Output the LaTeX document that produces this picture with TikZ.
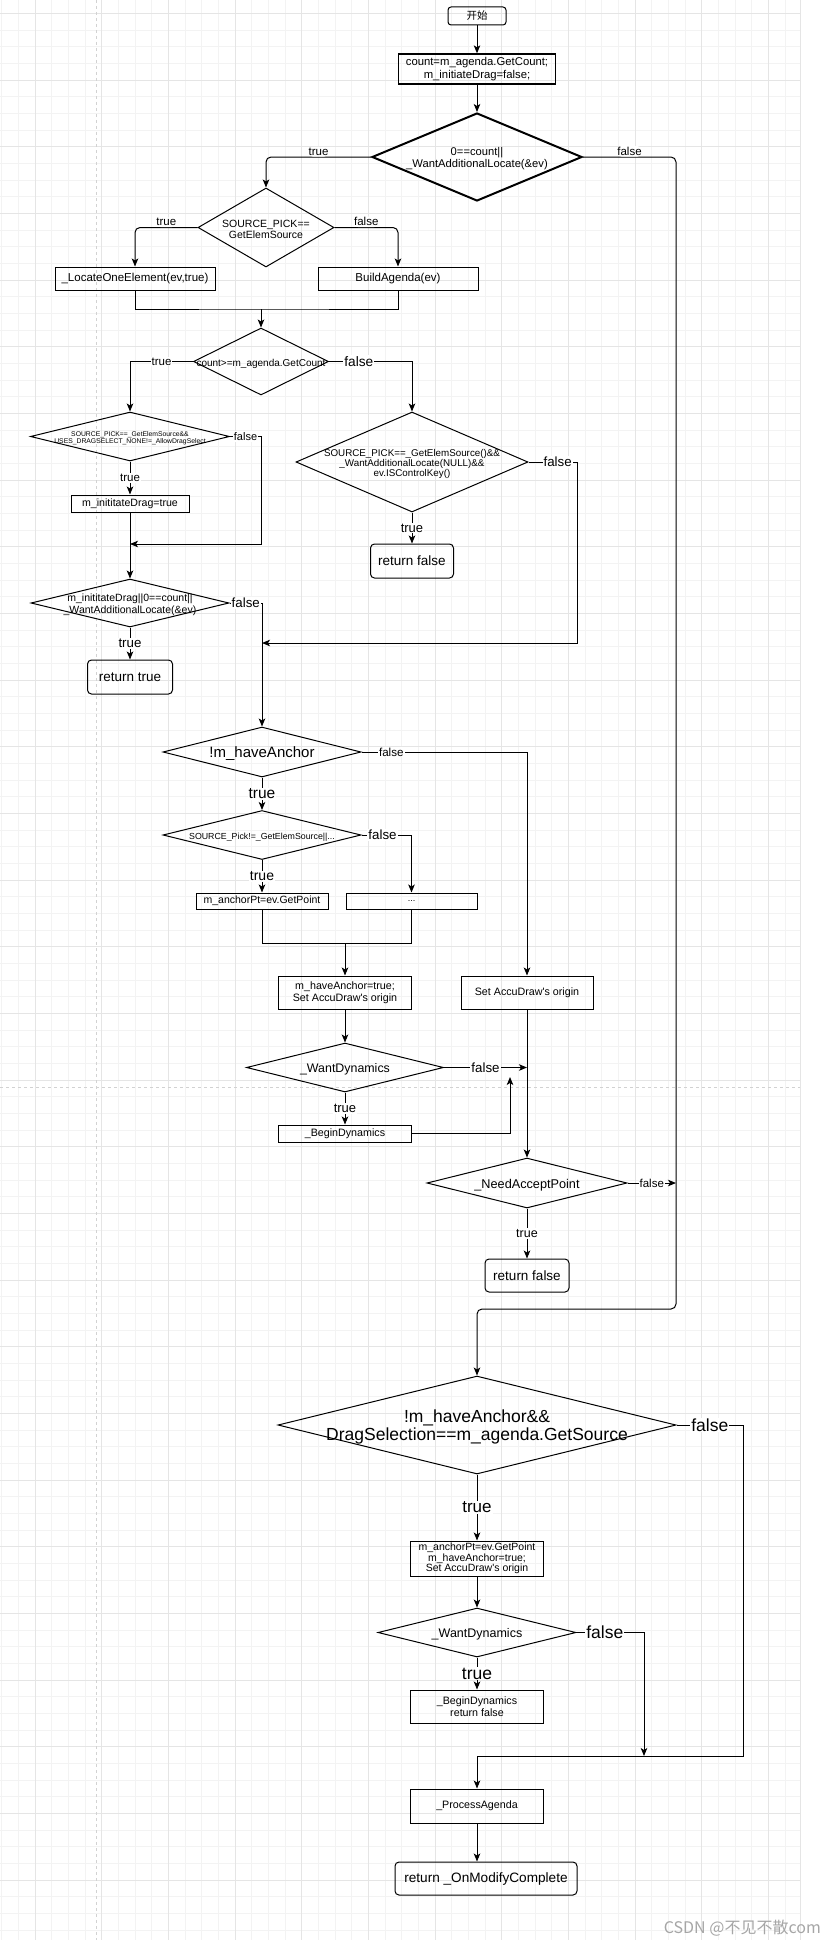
\documentclass[tikz,border=0pt]{standalone}
\usepackage{fontspec}
\setmainfont{Liberation Sans}
\newfontfamily\cjk{Noto Sans CJK SC}
\usetikzlibrary{shapes.geometric,arrows.meta}
\newcommand\fsz[2]{\fontsize{#1pt}{#2pt}\selectfont}
\definecolor{griglia}{HTML}{F3F3F3}
\definecolor{grigliaforte}{HTML}{E5E5E5}
\definecolor{pagina}{HTML}{D2D2D2}

\begin{document}
\begin{tikzpicture}[
    x=1pt, y=-1pt,
    gminor/.style={griglia,line width=0.7pt},
    gmajor/.style={grigliaforte,line width=0.8pt},
    gpage/.style={pagina,line width=0.8pt,dashed},
    sz/.style 2 args={minimum width=#1pt,minimum height=#2pt},
    box/.style={draw,line width=1pt,inner sep=0pt,align=center,font=\fsz{10.7}{11.5}},
    ret/.style={box,rounded corners=4pt,font=\fsz{13.5}{15}},
    dia/.style={diamond,draw,line width=1pt,inner sep=0pt},
    dtxt/.style={align=center,inner sep=0pt,yshift=-2pt},
    wire/.style={line width=1pt},
    arr/.style={wire,-{Stealth[length=8pt,width=6.5pt,inset=2pt]}},
    lbl/.style={fill=white,inner sep=1pt,font=\fsz{11.5}{12}}]

  \useasboundingbox (0,0) rectangle (836,1948);

  % ---- sfondo a griglia -----------------------------------------------------
  \fill[white] (0,0) rectangle (836,1948);
  \foreach \k in {0,...,47}  \draw[gminor] ({1.67+16.667*\k},0) -- ++(0,1940);
  \foreach \k in {0,...,115} \draw[gminor] (0,{13.33+16.667*\k}) -- ++(800,0);
  \foreach \k in {0,...,11}  \draw[gmajor] ({35+66.667*\k},0) -- ++(0,1940);
  \foreach \k in {0,...,28}  \draw[gmajor] (0,{13.33+66.667*\k}) -- ++(800,0);
  \draw[gmajor] (800,0) -- (800,1940);
  \draw[gpage] (96,0) -- (96,1940);      % bordo pagina
  \draw[gpage] (0,1087) -- (800,1087);   % salto pagina

  % ---- blocchi in alto ------------------------------------------------------
  \node[ret,sz={58}{18},rounded corners=3pt,font=\cjk\fsz{10.5}{12}] (start) at (477,16) {开始};
  \node[box,sz={157}{30},line width=1.3pt,font=\fsz{11.3}{12.5}] (init) at (477,69)
    {count=m\_agenda.GetCount;\\m\_initiateDrag=false;};
  \node[dia,sz={210}{88},line width=2pt,
    label={[dtxt,font=\fsz{11.2}{12}]center:0==count||\\\_WantAdditionalLocate(\&ev)}] (d1) at (477,157) {};
  \node[dia,sz={136}{79},
    label={[dtxt,font=\fsz{10.5}{10.5}]center:SOURCE\_PICK==\\GetElemSource}] (d2) at (266,227.5) {};
  \node[box,sz={160}{23},font=\fsz{11.5}{13}] (locate) at (135,278.5) {\_LocateOneElement(ev,true)};
  \node[box,sz={160}{23},font=\fsz{11.5}{13}] (build) at (398,278.5) {BuildAgenda(ev)};
  \coordinate (m1) at (261,309);
  \node[dia,sz={135}{67},
    label={[dtxt,font=\fsz{10}{11}]center:count>=m\_agenda.GetCount}] (d3) at (261,361.5) {};
  \node[dia,sz={199}{49},
    label={[dtxt,font=\fsz{6.8}{7}]center:SOURCE\_PICK==\_GetElemSource\&\&\\USES\_DRAGSELECT\_NONE!=\_AllowDragSelect}] (d4) at (130,436.5) {};
  \node[dia,sz={232}{100},
    label={[dtxt,font=\fsz{9.8}{10}]center:SOURCE\_PICK==\_GetElemSource()\&\&\\\_WantAdditionalLocate(NULL)\&\&\\ev.ISControlKey()}] (d5) at (412,462) {};
  \node[box,sz={118}{17},font=\fsz{10.6}{12}] (drag) at (130,503.5) {m\_inititateDrag=true};
  \coordinate (j1) at (261,544);
  \node[ret,sz={83}{34}] (retf1) at (412,561) {return false};
  \node[dia,sz={198}{48},
    label={[dtxt,font=\fsz{10.5}{12}]center:m\_inititateDrag||0==count||\\\_WantAdditionalLocate(\&ev)}] (d6) at (130,603) {};
  \coordinate (j2) at (577,643);
  \node[ret,sz={85}{34}] (rett) at (130,677) {return true};

  % ---- ramo dell'ancora -----------------------------------------------------
  \node[dia,sz={198}{50},
    label={[dtxt,font=\fsz{15}{16}]center:!m\_haveAnchor}] (d8) at (262,752) {};
  \node[dia,sz={198}{49},
    label={[dtxt,font=\fsz{8.8}{10}]center:SOURCE\_Pick!=\_GetElemSource||...}] (d9) at (262,835) {};
  \node[box,sz={132}{16},font=\fsz{10.5}{12}] (anchor1) at (262,901) {m\_anchorPt=ev.GetPoint};
  \node[box,sz={131}{16},font=\fsz{9}{10}] (dots) at (411.5,901) {...};
  \coordinate (m2) at (345,943);
  \node[box,sz={133}{33}] (set1) at (345,992.5) {m\_haveAnchor=true;\\Set AccuDraw\textquotesingle s origin};
  \node[box,sz={132}{33}] (set2) at (527,992.5) {Set AccuDraw\textquotesingle s origin};
  \node[dia,sz={197}{49},
    label={[dtxt,font=\fsz{12.4}{14}]center:\_WantDynamics}] (d10) at (345,1067.5) {};
  \node[box,sz={133}{17}] (begin1) at (345,1133.5) {\_BeginDynamics};
  \coordinate (j3) at (510,1077);
  \node[dia,sz={200}{50},
    label={[dtxt,font=\fsz{12.7}{14}]center:\_NeedAcceptPoint}] (d11) at (527,1183) {};
  \node[ret,sz={84}{33}] (retf2) at (527,1275.5) {return false};
  \coordinate (f1) at (676,1309);

  % ---- blocchi in basso -----------------------------------------------------
  \node[dia,sz={398}{98},
    label={[dtxt,font=\fsz{17.5}{18}]center:!m\_haveAnchor\&\&\\DragSelection==m\_agenda.GetSource}] (d7) at (477,1425) {};
  \node[box,sz={133}{35},font=\fsz{10.5}{10.7}] (set3) at (477,1558.5)
    {m\_anchorPt=ev.GetPoint\\m\_haveAnchor=true;\\Set AccuDraw\textquotesingle s origin};
  \node[dia,sz={198}{49},
    label={[dtxt,font=\fsz{12.5}{14}]center:\_WantDynamics}] (d12) at (477,1632.5) {};
  \node[box,sz={133}{33}] (begin2) at (477,1706.5) {\_BeginDynamics\\return false};
  \coordinate (j4) at (743,1756);
  \coordinate (j5) at (644,1756);
  \node[box,sz={133}{34}] (process) at (477,1806) {\_ProcessAgenda};
  \node[ret,sz={182}{33},font=\fsz{13.6}{15}] (done) at (486,1878.5) {return \_OnModifyComplete};

  \node[font=\cjk\fsz{16}{18},text=black!35,anchor=east,inner sep=0pt] (mark) at (821,1928) {CSDN @不见不散com};

  % ---- collegamenti ---------------------------------------------------------
  \draw[arr] (start) -- (init);
  \draw[arr] (init) -- (d1);
  \draw[arr,rounded corners=5pt] (d1.west) -| node[lbl,above,pos=.25] {true} (d2.north);
  \draw[arr,rounded corners=5pt] (d1.east) -| node[lbl,above,pos=.25] {false} (f1) -| (d7.north);
  \draw[arr,rounded corners=5pt] (d2.west) -| node[lbl,above,pos=.25] {true} (locate.north);
  \draw[arr,rounded corners=5pt] (d2.east) -| node[lbl,above,pos=.25] {false} (build.north);
  \draw[wire] (locate.south) |- (m1) -| (build.south);
  \draw[arr] (m1) -- (d3.north);
  \draw[arr] (d3.west) -| node[lbl,pos=.25] {true} (d4.north);
  \draw[arr] (d3.east) -| node[lbl,pos=.18,font=\fsz{13.7}{14}] {false} (d5.north);
  \draw[arr] (d4.south) -- node[lbl] {true} (drag.north);
  \draw[arr] (d4.east) -| node[lbl,pos=.25,font=\fsz{11}{12}] {false} (j1) -- (drag.south |- j1);
  \draw[arr] (drag.south) -- (d6.north);
  \draw[arr] (d5.south) -- node[lbl,font=\fsz{13}{14}] {true} (retf1.north);
  \draw[arr] (d5.east) -| node[lbl,pos=.3,font=\fsz{13.3}{14}] {false} (j2) -- (d8.north |- j2);
  \draw[arr] (d6.south) -- node[lbl,font=\fsz{13.3}{14}] {true} (rett.north);
  \draw[arr] (d6.east) -| node[lbl,pos=.25,font=\fsz{13.3}{14}] {false} (d8.north);
  \draw[arr] (d8.south) -- node[lbl,font=\fsz{15.5}{16}] {true} (d9.north);
  \draw[arr] (d8.east) -| node[lbl,pos=.09,font=\fsz{11.6}{12}] {false} (set2.north);
  \draw[arr] (d9.south) -- node[lbl,font=\fsz{14}{15}] {true} (anchor1.north);
  \draw[arr] (d9.east) -| node[lbl,pos=.21,font=\fsz{13.3}{14}] {false} (dots.north);
  \draw[wire] (anchor1.south) |- (m2) -| (dots.south);
  \draw[arr] (m2) -- (set1.north);
  \draw[arr] (set1.south) -- (d10.north);
  \draw[arr] (set2.south) -- (d11.north);
  \draw[arr] (d10.east) -- node[lbl,font=\fsz{13.3}{14}] {false} (set2.south |- d10.east);
  \draw[arr] (d10.south) -- node[lbl,font=\fsz{13}{14}] {true} (begin1.north);
  \draw[arr] (begin1.east) -| (j3);
  \draw[arr] (d11.east) -- node[lbl] {false} (f1 |- d11.east);
  \draw[arr] (d11.south) -- node[lbl,font=\fsz{12.5}{14}] {true} (retf2.north);
  \draw[arr] (d7.east) -| node[lbl,pos=.25,font=\fsz{17.5}{18}] {false} (j4) -| (process.north);
  \draw[arr] (d7.south) -- node[lbl,font=\fsz{17}{18}] {true} (set3.north);
  \draw[arr] (set3.south) -- (d12.north);
  \draw[arr] (d12.east) -| node[lbl,pos=.21,font=\fsz{17.5}{18}] {false} (j5);
  \draw[arr] (d12.south) -- node[lbl,font=\fsz{17.5}{18}] {true} (begin2.north);
  \draw[arr] (process.south) -- (process.south |- done.north);

\end{tikzpicture}
\end{document}
